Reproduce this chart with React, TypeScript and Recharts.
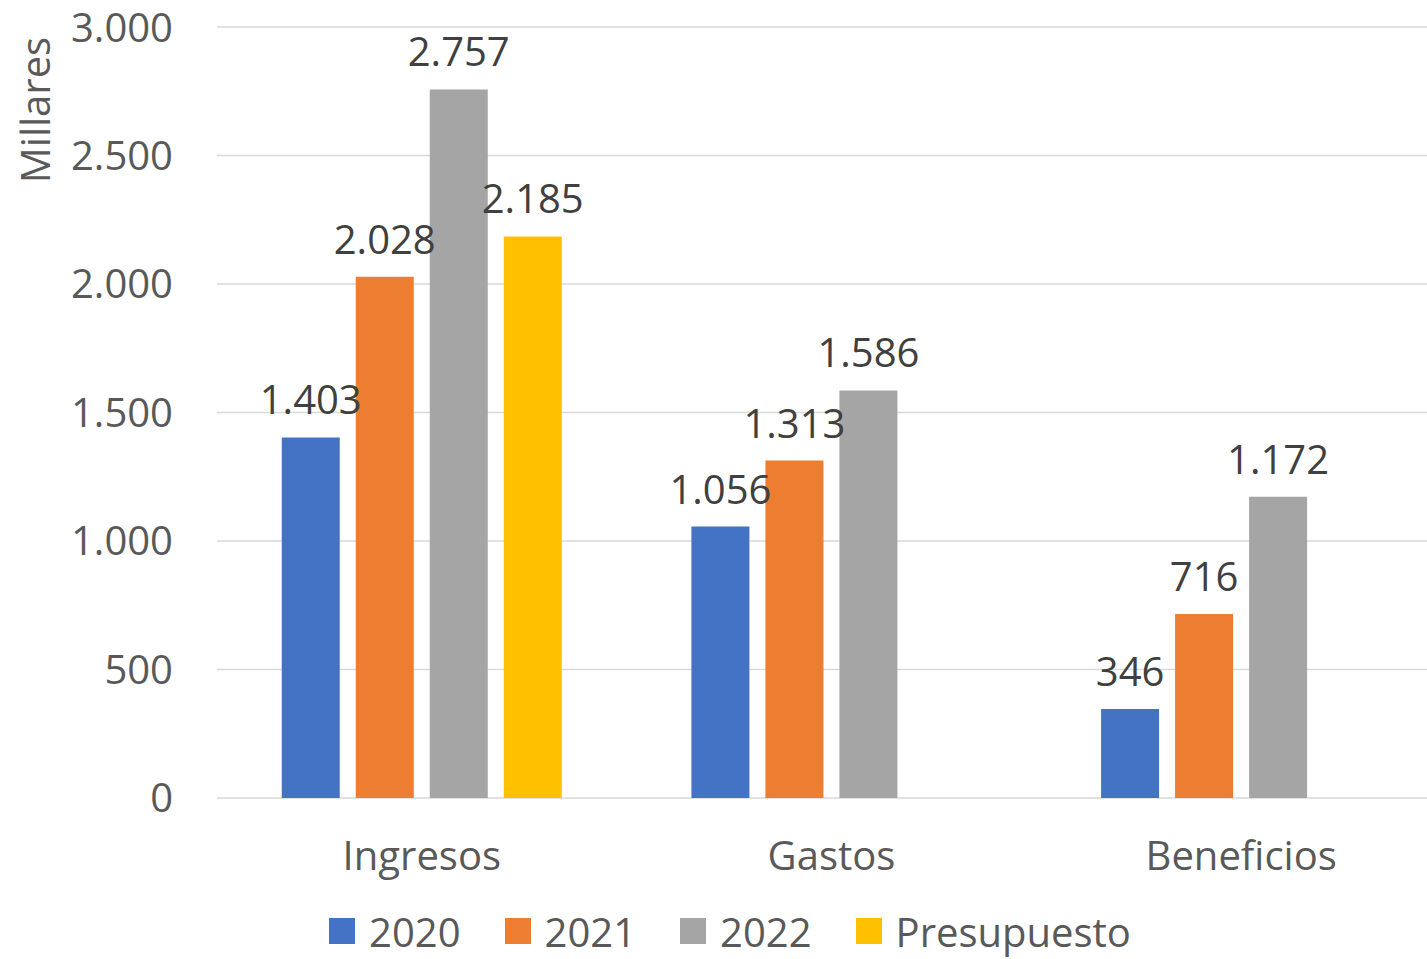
import { BarChart, Bar, XAxis, YAxis, CartesianGrid, Legend, LabelList } from "recharts";

const categories = ["Ingresos", "Gastos", "Beneficios"];
const values2020 = [1403, 1056, 346];
const values2021 = [2028, 1313, 716];
const values2022 = [2757, 1586, 1172];
const presupuesto: (number | null)[] = [2185, null, null];
const yTicks = [0, 500, 1000, 1500, 2000, 2500, 3000];

const series = [
  { key: "2020", name: "2020", color: "#4472C4" },
  { key: "2021", name: "2021", color: "#ED7D31" },
  { key: "2022", name: "2022", color: "#A5A5A5" },
  { key: "presupuesto", name: "Presupuesto", color: "#FFC000" },
];

const data = categories.map((name, i) => ({
  name,
  "2020": values2020[i],
  "2021": values2021[i],
  "2022": values2022[i],
  presupuesto: presupuesto[i],
}));

const FONT = "'Open Sans', sans-serif";
const AXIS_COLOR = "#595959";

const fmt = (v: any) => {
  if (v === null || v === undefined || v === "") return "";
  return String(v).replace(/\B(?=(\d{3})+(?!\d))/g, ".");
};

function LegendContent() {
  return (
    <div
      style={{
        display: "flex",
        justifyContent: "center",
        alignItems: "center",
        height: 56,
        paddingLeft: 14,
        fontFamily: FONT,
        fontSize: 40,
        color: AXIS_COLOR,
      }}
    >
      {series.map((s, i) => (
        <div
          key={s.key}
          style={{ display: "flex", alignItems: "center", marginRight: i < series.length - 1 ? 44 : 0 }}
        >
          <span style={{ display: "inline-block", width: 26, height: 26, background: s.color, marginRight: 14 }} />
          <span>{s.name}</span>
        </div>
      ))}
    </div>
  );
}

export default function App() {
  return (
    <div
      style={{
        position: "fixed",
        left: 0,
        top: 0,
        width: 1427,
        height: 959,
        overflow: "hidden",
        background: "#fff",
      }}
    >
      <BarChart
        width={1447}
        height={959}
        data={data}
        margin={{ top: 27, right: 1, left: 0, bottom: 0 }}
        barGap={16}
        barCategoryGap={64.75}
      >
        <CartesianGrid vertical={false} stroke="#d9d9d9" strokeWidth={1.5} />
        <XAxis
          dataKey="name"
          axisLine={false}
          tickLine={false}
          tickSize={0}
          tickMargin={44}
          height={105}
          tick={{ fontSize: 40, fill: AXIS_COLOR, fontFamily: FONT }}
        />
        <YAxis
          domain={[0, 3000]}
          ticks={yTicks}
          width={217}
          axisLine={false}
          tickLine={false}
          tickSize={0}
          tickMargin={44}
          tickFormatter={fmt}
          tick={{ fontSize: 40, fill: AXIS_COLOR, fontFamily: FONT }}
          label={() => (
            <text
              x={34}
              y={110}
              transform="rotate(-90, 34, 110)"
              textAnchor="middle"
              dominantBaseline="central"
              fontSize={40}
              fill={AXIS_COLOR}
              fontFamily={FONT}
            >
              Millares
            </text>
          )}
        />
        <Legend verticalAlign="bottom" content={<LegendContent />} />
        {series.map((s) => (
          <Bar key={s.key} dataKey={s.key} name={s.name} fill={s.color} isAnimationActive={false}>
            <LabelList
              dataKey={s.key}
              position="top"
              offset={23}
              formatter={fmt}
              style={{ fontSize: 40, fill: "#404040", fontFamily: FONT }}
            />
          </Bar>
        ))}
      </BarChart>
    </div>
  );
}
